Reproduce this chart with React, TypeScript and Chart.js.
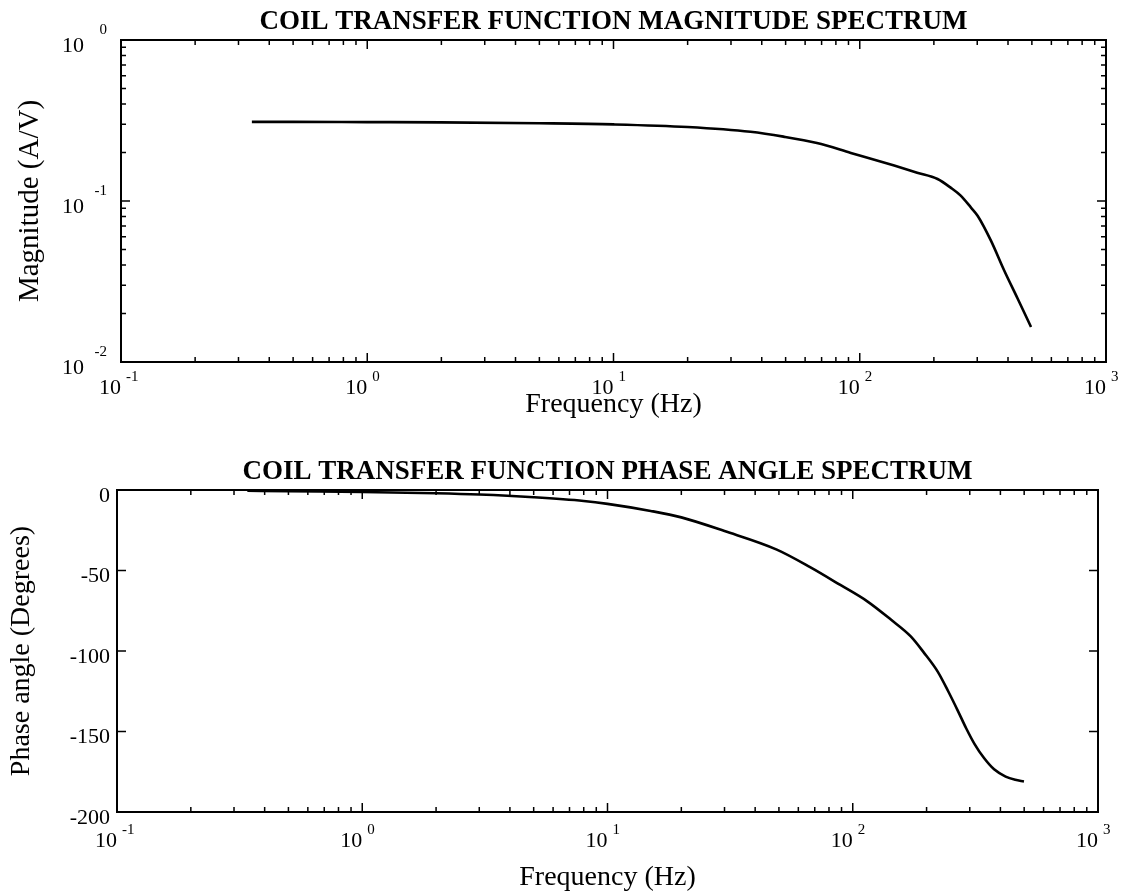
import React, { useEffect, useRef } from "react";
import { Chart, registerables } from "chart.js";

Chart.register(...registerables);

// ---------- data ----------
const FREQ_MAG = [0.34, 0.5, 1, 2, 5, 10, 20, 36, 49, 67, 92, 138, 171, 207, 234, 257, 283, 301, 341, 386, 438, 496];
const MAGNITUDE = [0.31, 0.31, 0.309, 0.308, 0.304, 0.299, 0.288, 0.269, 0.251, 0.229, 0.199, 0.166, 0.15, 0.137, 0.121, 0.108, 0.091, 0.081, 0.0567, 0.037, 0.0247, 0.0165];

const FREQ_PHASE = [0.34, 0.5, 1, 2, 3, 5, 8, 10, 15, 20, 30, 49, 67, 89, 115, 143, 172, 195, 222, 245, 268, 290, 313, 343, 377, 420, 460, 499];
const PHASE = [-0.5, -0.8, -1.2, -2, -2.8, -4.5, -6.8, -8.6, -13, -17, -25.5, -37, -47.9, -59, -69.3, -80.5, -90.8, -101, -112.8, -125, -137, -148, -157.5, -166.5, -173.5, -178, -180, -181];

const X_DECADES = [0.1, 1, 10, 100, 1000];
const X_EXPONENTS = ["-1", "0", "1", "2", "3"];
const MAG_DECADES = [0.01, 0.1, 1];
const MAG_EXPONENTS = ["-2", "-1", "0"];
const PHASE_TICKS = [-200, -150, -100, -50, 0];
const MINOR_MULTIPLES = [2, 3, 4, 5, 6, 7, 8, 9];

const TITLE_MAG = "COIL TRANSFER FUNCTION MAGNITUDE SPECTRUM";
const TITLE_PHASE = "COIL TRANSFER FUNCTION PHASE ANGLE SPECTRUM";
const X_LABEL = "Frequency (Hz)";
const Y_LABEL_MAG = "Magnitude (A/V)";
const Y_LABEL_PHASE = "Phase angle (Degrees)";

// ---------- style ----------
const SERIF = "'Liberation Serif', 'Times New Roman', Times, serif";
const TICK_FONT = 22;
const EXP_FONT = 15;
const X_LABEL_SHIFT = -11;

function logTickMarks(min: number, max: number) {
  const out: { v: number; major: boolean }[] = [];
  const e0 = Math.round(Math.log10(min));
  const e1 = Math.round(Math.log10(max));
  for (let e = e0; e <= e1; e++) {
    const base = Math.pow(10, e);
    out.push({ v: base, major: true });
    if (e < e1) MINOR_MULTIPLES.forEach((m) => out.push({ v: m * base, major: false }));
  }
  return out;
}

const frameTicksPlugin = {
  id: "frameTicks",
  afterDraw(chart: any, _args: any, opts: any) {
    const { ctx, chartArea: a } = chart;
    const xs = chart.scales.x;
    const ys = chart.scales.y;
    ctx.save();
    ctx.strokeStyle = "#000";
    ctx.lineWidth = 2;
    ctx.strokeRect(a.left, a.top, a.right - a.left, a.bottom - a.top);
    ctx.lineWidth = 1.5;
    ctx.beginPath();
    logTickMarks(xs.min, xs.max).forEach((t) => {
      const px = xs.getPixelForValue(t.v);
      const len = t.major ? 9 : 5;
      ctx.moveTo(px, a.bottom);
      ctx.lineTo(px, a.bottom - len);
      ctx.moveTo(px, a.top);
      ctx.lineTo(px, a.top + len);
    });
    const yMarks =
      ys.type === "logarithmic"
        ? logTickMarks(ys.min, ys.max)
        : ys.ticks.map((t: any) => ({ v: t.value, major: true }));
    yMarks.forEach((t: any) => {
      const py = ys.getPixelForValue(t.v);
      const len = t.major ? 9 : 5;
      ctx.moveTo(a.left, py);
      ctx.lineTo(a.left + len, py);
      ctx.moveTo(a.right, py);
      ctx.lineTo(a.right - len, py);
    });
    ctx.stroke();

    // superscript exponents of the decade labels
    ctx.fillStyle = "#000";
    ctx.textBaseline = "middle";
    ctx.font = `${TICK_FONT}px ${SERIF}`;
    const baseW = ctx.measureText("10").width;
    ctx.font = `${EXP_FONT}px ${SERIF}`;
    const xCenterY = xs.top + opts.xPad + (TICK_FONT * 1.2) / 2;
    ctx.textAlign = "left";
    xs.ticks.forEach((t: any, i: number) => {
      const px = xs.getPixelForValue(t.value) + X_LABEL_SHIFT;
      ctx.fillText(opts.xExp[i], px + baseW / 2 + 5, xCenterY - 11);
    });
    if (opts.yExp) {
      ctx.textAlign = "right";
      ys.ticks.forEach((t: any, i: number) => {
        const py = ys.getPixelForValue(t.value) + 6;
        ctx.fillText(opts.yExp[i], ys.right - 14, py - 16);
      });
    }
    ctx.restore();
  },
};

function xScale(height: number, pad: number, titleBottom: number) {
  return {
    type: "logarithmic",
    position: "bottom",
    min: 0.1,
    max: 1000,
    afterBuildTicks: (s: any) => {
      s.ticks = X_DECADES.map((v) => ({ value: v, major: true }));
    },
    afterFit: (s: any) => {
      s.height = height;
      s.paddingLeft = 0;
      s.paddingRight = 0;
    },
    grid: { display: false, drawTicks: false },
    border: { display: false },
    ticks: {
      autoSkip: false,
      maxRotation: 0,
      padding: pad,
      labelOffset: X_LABEL_SHIFT,
      color: "#000",
      font: { family: SERIF, size: TICK_FONT },
      callback: () => "10",
    },
    title: {
      display: true,
      text: X_LABEL,
      color: "#000",
      font: { family: SERIF, size: 28 },
      padding: { top: 0, bottom: titleBottom },
    },
  };
}

const lineDataset = (xs: number[], ys: number[]) => ({
  data: xs.map((f, i) => ({ x: f, y: ys[i] })),
  borderColor: "#000",
  borderWidth: 2.6,
  pointRadius: 0,
  cubicInterpolationMode: "monotone",
  fill: false,
});

function magConfig(): any {
  return {
    type: "line",
    data: { datasets: [lineDataset(FREQ_MAG, MAGNITUDE)] },
    options: {
      responsive: false,
      animation: false,
      devicePixelRatio: 1,
      layout: { padding: { left: 0, right: 20, top: 0, bottom: 0 } },
      scales: {
        x: xScale(68, 13, 8.2),
        y: {
          type: "logarithmic",
          min: 0.01,
          max: 1,
          afterBuildTicks: (s: any) => {
            s.ticks = MAG_DECADES.map((v) => ({ value: v, major: true }));
          },
          afterFit: (s: any) => {
            s.width = 121;
            s.paddingTop = 0;
            s.paddingBottom = 0;
          },
          grid: { display: false, drawTicks: false },
          border: { display: false },
          ticks: {
            autoSkip: false,
            padding: 37,
            labelOffset: 6,
            color: "#000",
            font: { family: SERIF, size: TICK_FONT },
            callback: () => "10",
          },
          title: {
            display: true,
            text: Y_LABEL_MAG,
            color: "#000",
            font: { family: SERIF, size: 29 },
            padding: { top: 12.6, bottom: 0 },
          },
        },
      },
      plugins: {
        legend: { display: false },
        tooltip: { enabled: false },
        title: {
          display: true,
          text: TITLE_MAG,
          fullSize: false,
          color: "#000",
          font: { family: SERIF, size: 27, weight: "bold" },
          padding: { top: 6, bottom: 1.6 },
        },
        frameTicks: { xPad: 13, xExp: X_EXPONENTS, yExp: MAG_EXPONENTS },
      },
    },
    plugins: [frameTicksPlugin],
  };
}

function phaseConfig(): any {
  return {
    type: "line",
    data: { datasets: [lineDataset(FREQ_PHASE, PHASE)] },
    options: {
      responsive: false,
      animation: false,
      devicePixelRatio: 1,
      layout: { padding: { left: 0, right: 28, top: 0, bottom: 0 } },
      scales: {
        x: xScale(84, 16, 1.2),
        y: {
          type: "linear",
          min: -200,
          max: 0,
          afterBuildTicks: (s: any) => {
            s.ticks = PHASE_TICKS.map((v) => ({ value: v }));
          },
          afterFit: (s: any) => {
            s.width = 117;
            s.paddingTop = 0;
            s.paddingBottom = 0;
          },
          grid: { display: false, drawTicks: false },
          border: { display: false },
          ticks: {
            autoSkip: false,
            padding: 7,
            labelOffset: 6,
            color: "#000",
            font: { family: SERIF, size: TICK_FONT },
            callback: (v: any) => String(v),
          },
          title: {
            display: true,
            text: Y_LABEL_PHASE,
            color: "#000",
            font: { family: SERIF, size: 28 },
            padding: { top: 5.2, bottom: 0 },
          },
        },
      },
      plugins: {
        legend: { display: false },
        tooltip: { enabled: false },
        title: {
          display: true,
          text: TITLE_PHASE,
          fullSize: false,
          color: "#000",
          font: { family: SERIF, size: 27, weight: "bold" },
          padding: { top: 26, bottom: 1.6 },
        },
        frameTicks: { xPad: 16, xExp: X_EXPONENTS, yExp: null },
      },
    },
    plugins: [frameTicksPlugin],
  };
}

export default function App() {
  const topRef = useRef<HTMLCanvasElement>(null);
  const botRef = useRef<HTMLCanvasElement>(null);

  useEffect(() => {
    const c1 = new Chart(topRef.current as HTMLCanvasElement, magConfig());
    const c2 = new Chart(botRef.current as HTMLCanvasElement, phaseConfig());
    return () => {
      c1.destroy();
      c2.destroy();
    };
  }, []);

  return (
    <div style={{ position: "absolute", left: 0, top: 0, width: 1126, height: 896, background: "#fff" }}>
      <canvas
        ref={topRef}
        width={1126}
        height={430}
        style={{ position: "absolute", left: 0, top: 0, width: 1126, height: 430, display: "block" }}
      />
      <canvas
        ref={botRef}
        width={1126}
        height={466}
        style={{ position: "absolute", left: 0, top: 430, width: 1126, height: 466, display: "block" }}
      />
    </div>
  );
}
